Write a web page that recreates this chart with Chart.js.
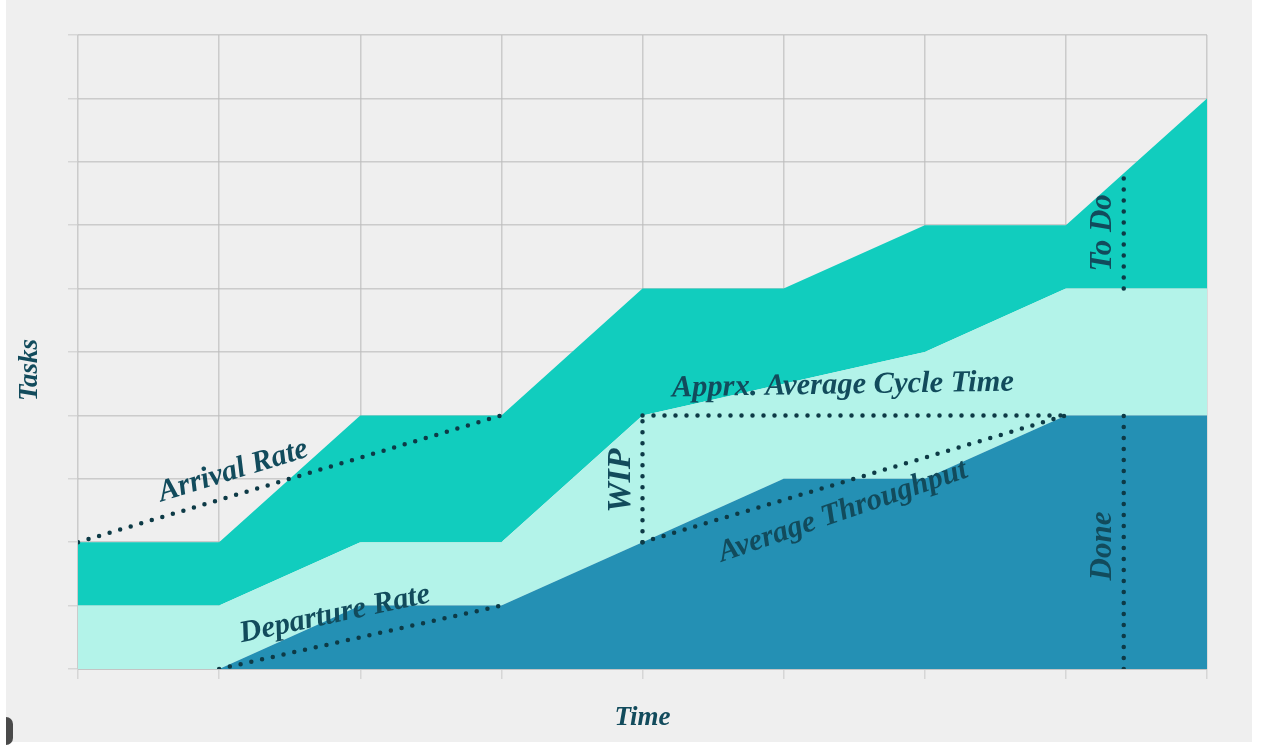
<!DOCTYPE html>
<html>
<head>
<meta charset="utf-8">
<title>Cumulative Flow</title>
<script src="https://cdn.jsdelivr.net/npm/chart.js@4.4.1/dist/chart.umd.min.js"></script>
<style>
    html, body { margin: 0; padding: 0; background: #ffffff; overflow: hidden; }
    #marco {
        position: absolute; left: 6px; top: 0;
        width: 1246px; height: 742px; background: #efefef;
    }
    #grafica { display: block; }
    #pestana {
        position: absolute; left: 6px; top: 717px;
        width: 7px; height: 28px; background: #4a4a4a;
        border-radius: 0 8px 8px 0;
    }
</style>
</head>
<body>
<div id="marco"><canvas id="grafica" width="1246" height="742"></canvas></div>
<div id="pestana"></div>
<script>
// periodos de tiempo (eje x)
const periodos = [0, 1, 2, 3, 4, 5, 6, 7, 8]
// tareas acumuladas por estado
const llegadas = [2, 2, 4, 4, 6, 6, 7, 7, 9]
const enCurso = [1, 1, 2, 2, 4, 4.5, 5, 6, 6]
const hechas = [0, 0, 1, 1, 2, 3, 3, 4, 4]

// lineas punteadas de referencia [x, y]
const tasaLlegada = [[0, 2], [3, 4]]
const tasaSalida = [[1, 0], [3, 1]]
const throughput = [[4, 2], [7, 4]]
const cicloMedio = [[4, 4], [7, 4]]
const lineaWip = [[4, 2], [4, 4]]
const lineaToDo = [[7.41, 6], [7.41, 7.82]]
const lineaDone = [[7.41, 0], [7.41, 4]]

const colorTexto = '#124b5c'
const colorPuntos = '#0d3a46'
const fuente = '"Liberation Serif", "DejaVu Serif", serif'

const puntos = (arr) => arr.map(p => ({ x: p[0], y: p[1] }))
const serie = (vals) => periodos.map((x, i) => ({ x: x, y: vals[i] }))

function punteada(arr) {
    return {
        data: puntos(arr),
        order: 0,
        borderColor: colorPuntos,
        borderWidth: 4.5,
        borderDash: [0, 11],
        borderCapStyle: 'round',
        pointRadius: 0,
        fill: false,
        tension: 0
    }
}

function area(nombre, vals, color, relleno) {
    return {
        label: nombre,
        data: serie(vals),
        order: 5,
        borderWidth: 0,
        pointRadius: 0,
        backgroundColor: color,
        fill: relleno
    }
}

// textos sobre la grafica, en unidades de datos
const etiquetas = [
    { texto: 'Arrival Rate', x: 1.1, y: 3.12, ang: -17, tam: 30.5 },
    { texto: 'Departure Rate', x: 1.82, y: 0.86, ang: -12, tam: 30.5 },
    { texto: 'Apprx. Average Cycle Time', x: 5.42, y: 4.47, ang: -1, tam: 30.5 },
    { texto: 'Average Throughput', x: 5.42, y: 2.48, ang: -19, tam: 30.5 },
    { texto: 'WIP', x: 3.85, y: 2.97, ang: -90, tam: 34 },
    { texto: 'To Do', x: 7.26, y: 6.88, ang: -90, tam: 31 },
    { texto: 'Done', x: 7.26, y: 1.94, ang: -90, tam: 31 }
]

const textos = {
    id: 'textos',
    afterDraw(chart) {
        const ctx = chart.ctx
        const sx = chart.scales.x
        const sy = chart.scales.y
        ctx.save()
        ctx.fillStyle = colorTexto
        ctx.textAlign = 'center'
        ctx.textBaseline = 'middle'
        etiquetas.forEach(e => {
            ctx.save()
            ctx.translate(sx.getPixelForValue(e.x), sy.getPixelForValue(e.y))
            ctx.rotate(e.ang * Math.PI / 180)
            ctx.font = 'italic bold ' + e.tam + 'px ' + fuente
            ctx.fillText(e.texto, 0, 0)
            ctx.restore()
        })
        // titulos de los ejes
        const zona = chart.chartArea
        ctx.font = 'italic bold 27px ' + fuente
        ctx.fillText('Time', (zona.left + zona.right) / 2, 718)
        ctx.save()
        ctx.translate(24, 370)
        ctx.rotate(-Math.PI / 2)
        ctx.fillText('Tasks', 0, 0)
        ctx.restore()
        ctx.restore()
    }
}

// rejilla de fondo (debajo de las areas)
const rejilla = {
    color: '#d6d6d6',
    lineWidth: 1.5,
    tickLength: 10,
    drawTicks: true
}
// rejilla tenue por encima de las areas; la linea del cero mas marcada
const rejillaEncima = {
    color: (c) => (c.tick && c.tick.value === 0) ? '#c4c4c4' : 'rgba(0, 0, 0, 0.05)',
    lineWidth: (c) => (c.tick && c.tick.value === 0) ? 2 : 1.5,
    drawTicks: false
}

new Chart(document.getElementById('grafica'), {
    type: 'line',
    data: {
        datasets: [
            area('Done', hechas, '#2490b4', 'origin'),
            area('In Progress', enCurso, '#b3f3e9', '-1'),
            area('To Do', llegadas, '#11cdbe', '-1'),
            punteada(tasaLlegada),
            punteada(tasaSalida),
            punteada(throughput),
            punteada(cicloMedio),
            punteada(lineaWip),
            punteada(lineaToDo),
            punteada(lineaDone)
        ]
    },
    options: {
        responsive: false,
        animation: false,
        layout: { padding: { left: 62, right: 45, top: 35, bottom: 63 } },
        plugins: {
            legend: { display: false },
            tooltip: { enabled: false }
        },
        scales: {
            x: {
                type: 'linear', min: 0, max: 8,
                grid: rejilla,
                border: { display: false },
                ticks: { display: false, stepSize: 1 }
            },
            y: {
                min: 0, max: 10,
                grid: rejilla,
                border: { display: false },
                ticks: { display: false, stepSize: 1 }
            },
            xEncima: {
                type: 'linear', position: 'bottom', min: 0, max: 8, z: 1,
                grid: { color: 'rgba(0, 0, 0, 0.05)', lineWidth: 1.5, drawTicks: false },
                border: { display: false },
                ticks: { display: false, stepSize: 1 }
            },
            yEncima: {
                type: 'linear', position: 'left', min: 0, max: 10, z: 1,
                grid: rejillaEncima,
                border: { display: false },
                ticks: { display: false, stepSize: 1 }
            }
        }
    },
    plugins: [textos]
})
</script>
</body>
</html>
